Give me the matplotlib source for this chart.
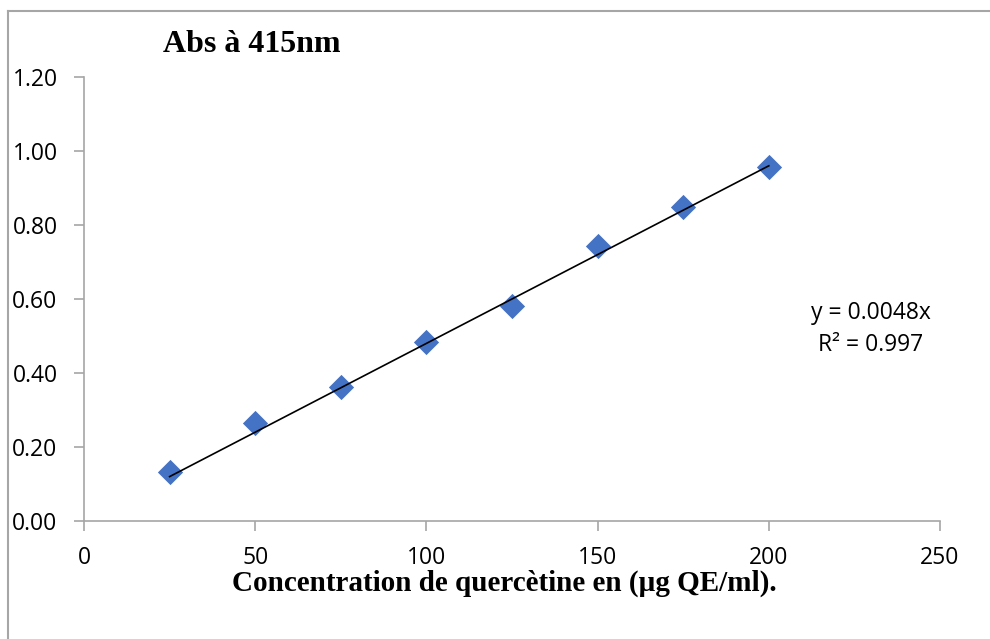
import matplotlib
matplotlib.use("Agg")
import matplotlib.pyplot as plt
from matplotlib.lines import Line2D

# Data
concentration = [25, 50, 75, 100, 125, 150, 175, 200]
absorbance = [0.132, 0.265, 0.362, 0.484, 0.581, 0.743, 0.849, 0.957]
slope = 0.0048
x_ticks = [0, 50, 100, 150, 200, 250]
y_ticks = [0.0, 0.2, 0.4, 0.6, 0.8, 1.0, 1.2]

title_text = "Abs à 415nm"
xlabel_text = "Concentration de quercètine en (µg QE/ml)."
eq_text = "y = 0.0048x\nR² = 0.997"

fig = plt.figure(figsize=(9.9, 6.39), dpi=100)
ax = fig.add_axes([84/990, 1-521/639, (940-84)/990, (521-77)/639])

spine_c = "#a6a6a6"
ax.scatter(concentration, absorbance, marker="D", s=165, color="#4472C4", zorder=3, linewidths=0)
fit_x = [concentration[0], concentration[-1]]
fit_y = [slope * v for v in fit_x]
ax.plot(fit_x, fit_y, color="black", lw=1.2, zorder=4)

ax.set_xlim(0, 250)
ax.set_ylim(0, 1.2)
ax.set_xticks(x_ticks)
ax.set_yticks(y_ticks)
ax.set_xticklabels([str(v) for v in x_ticks])
ax.set_yticklabels([f"{v:.2f}" for v in y_ticks])
for s in ["top", "right"]:
    ax.spines[s].set_visible(False)
for s in ["left", "bottom"]:
    ax.spines[s].set_color(spine_c)
    ax.spines[s].set_linewidth(1.2)
ax.tick_params(axis="both", direction="out", length=7, width=1.2, color=spine_c,
               labelsize=16.5, labelcolor="black")
ax.tick_params(axis="y", pad=12)
ax.tick_params(axis="x", pad=11)
for lab in ax.get_xticklabels() + ax.get_yticklabels():
    lab.set_fontfamily(["Open Sans", "DejaVu Sans"])

fig.text(252/990, 1-45/639, title_text, ha="center", va="center",
         fontsize=23, fontweight="bold", family="Liberation Serif")
fig.text(504/990, 1-583/639, xlabel_text, ha="center", va="center",
         fontsize=21, fontweight="bold", family="Liberation Serif")
fig.text(871/990, 1-329/639, eq_text, ha="center", va="center",
         fontsize=16.5, family=["Open Sans", "DejaVu Sans"], linespacing=1.45)

# figure frame lines (top and left)
fig.add_artist(Line2D([8/990, 1], [1-11/639, 1-11/639], transform=fig.transFigure, color=spine_c, lw=1.5))
fig.add_artist(Line2D([8/990, 8/990], [0, 1-11/639], transform=fig.transFigure, color=spine_c, lw=1.5))

fig.savefig("out.png", dpi=100)
